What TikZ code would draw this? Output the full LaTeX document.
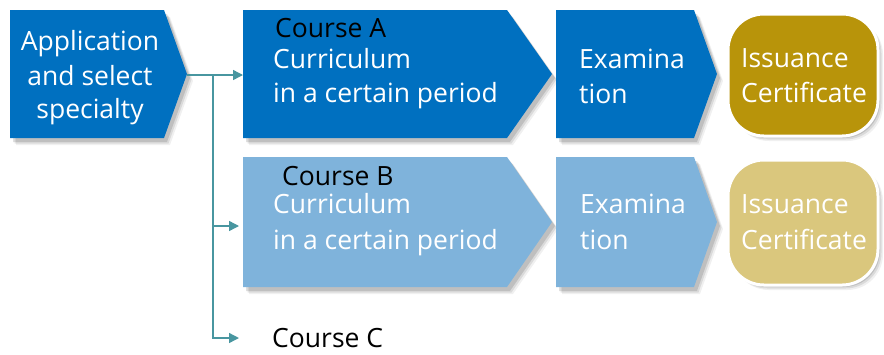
\documentclass[tikz,border=0pt]{standalone}
\usepackage{fontspec}
\setmainfont{Open Sans}
\usetikzlibrary{arrows.meta}
\definecolor{dblue}{RGB}{0,112,192}
\definecolor{lblue}{RGB}{127,179,219}
\definecolor{dgold}{RGB}{184,148,10}
\definecolor{lgold}{RGB}{218,199,125}
\definecolor{conn}{RGB}{72,150,160}
\newcommand\mypent[6]{%
  \foreach \s/\o in {6/0.06,4.5/0.09,3/0.12}{%
    \fill[black,opacity=\o,shift={(\s,\s+1)}] (#1,#2) -- (#3,#2) -- (#4,{(#2+#5)/2}) -- (#3,#5) -- (#1,#5) -- cycle;}
  \fill[#6] (#1,#2) -- (#3,#2) -- (#4,{(#2+#5)/2}) -- (#3,#5) -- (#1,#5) -- cycle;}
\newcommand\mycert[5]{%
  \foreach \s/\o in {5/0.06,3.5/0.09,2/0.12}{%
    \fill[black,opacity=\o,rounded corners=36,shift={(\s,\s)}] (#1,#2) rectangle (#3,#4);}
  \filldraw[fill=#5,draw=white,line width=3bp,rounded corners=36] (#1,#2) rectangle (#3,#4);}
\begin{document}
\begin{tikzpicture}[x=1bp,y=-1bp,
  txt/.style={inner sep=0pt,anchor=base west,text=white,font=\fontsize{26.6}{30}\selectfont},
  ctxt/.style={txt,anchor=base},
  btxt/.style={txt,text=black},
  arr/.style={draw=conn,line width=1.4bp,-{Triangle[length=10bp,width=10bp]}},
  ln/.style={draw=conn,line width=1.4bp}]
\useasboundingbox (0,0) rectangle (884,354);
% shapes
\mypent{10}{10}{164}{187}{138}{dblue}
\mypent{243}{10}{507}{552}{138}{dblue}
\mypent{556}{10}{694}{717}{138}{dblue}
\mycert{728}{14}{878}{136}{dgold}
\mypent{243}{157}{507}{552}{287}{lblue}
\mypent{556}{157}{694}{717}{287}{lblue}
\mycert{728}{160}{878}{285}{lgold}
% coordinates
\coordinate (appTip) at (187,75);
\coordinate (junc) at (213,75);
\coordinate (aIn) at (243,75);
\coordinate (bIn) at (239,226);
\coordinate (cIn) at (239,338);
% connectors
\draw[arr] (appTip) -- (aIn);
\draw[arr] (junc) |- (bIn);
\draw[arr] (junc) |- (cIn);
% texts
\node[ctxt] (ap1) at (90,50) {Application};
\node[ctxt] (ap2) at (90,85) {and select};
\node[ctxt] (ap3) at (90,118) {specialty};
\node[btxt] (ca) at (275,37) {Course A};
\node[txt] (ca1) at (273,68) {Curriculum};
\node[txt] (ca2) at (273,102) {in a certain period};
\node[txt] (ea1) at (579,68) {Examina};
\node[txt] (ea2) at (579,103) {tion};
\node[txt] (ia1) at (741,67) {Issuance};
\node[txt] (ia2) at (741,102) {Certificate};
\node[btxt] (cb) at (282,185) {Course B};
\node[txt] (cb1) at (273,213) {Curriculum};
\node[txt] (cb2) at (273,249) {in a certain period};
\node[txt] (eb1) at (580,213) {Examina};
\node[txt] (eb2) at (580,249) {tion};
\node[txt] (ib1) at (741,213) {Issuance};
\node[txt] (ib2) at (741,249) {Certificate};
\node[btxt] (cc) at (272,347) {Course C};
\end{tikzpicture}
\end{document}
